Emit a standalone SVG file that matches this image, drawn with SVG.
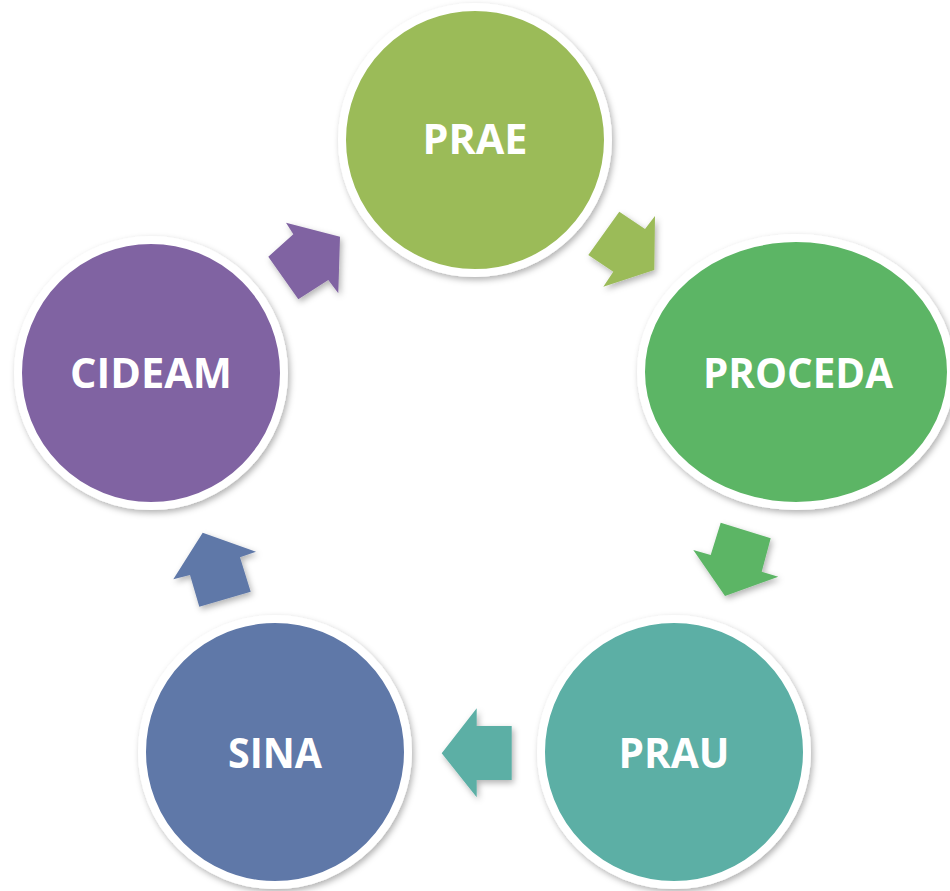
<svg xmlns="http://www.w3.org/2000/svg" width="950" height="891" viewBox="0 0 950 891">
<defs>
<filter id="sh" x="-20%" y="-20%" width="140%" height="140%">
<feDropShadow dx="2" dy="3" stdDeviation="3" flood-color="#000" flood-opacity="0.3"/>
</filter>
</defs>
<style>
.node{stroke:#fff;stroke-width:8;filter:url(#sh)}
.lbl{font-family:"Open Sans","Liberation Sans",sans-serif;font-weight:bold;font-size:42px;fill:#fff;text-anchor:middle}
.arr{filter:url(#sh)}
</style>
<rect width="950" height="891" fill="#fff"/>
<g id="connectors">
<polygon class="arr" fill="#9BBB59" points="619.3,211.7 645,229 655,216 654.3,270 603.3,286.7 613.3,271.7 588.3,255"/>
<polygon class="arr" fill="#5CB565" points="720.7,522.7 770.7,538.3 761.7,571.7 778.3,576.7 725,596 693.3,550 710.7,555"/>
<polygon class="arr" fill="#5BAFA5" points="511.7,726 476.7,726 476.7,708.3 441.7,753.3 476.7,797.3 476.7,780 511.7,780"/>
<polygon class="arr" fill="#5F78A8" points="202.7,532.7 256,551.7 240,557.3 250.7,591.7 199.3,606.7 190,575 173.3,579.3"/>
<polygon class="arr" fill="#8064A2" points="268.3,256.7 293.3,234.3 286,222.7 340,236.7 338.3,293.3 328.3,280 298.3,299.3"/>
</g>
<g id="node-prae">
<circle class="node" cx="475" cy="140" r="133" fill="#9BBB59"/>
<text class="lbl" x="475" y="154" textLength="105" lengthAdjust="spacingAndGlyphs">PRAE</text>
</g>
<g id="node-proceda">
<ellipse class="node" cx="796" cy="372" rx="155" ry="134" fill="#5CB565"/>
<text class="lbl" x="798" y="388" textLength="190" lengthAdjust="spacingAndGlyphs">PROCEDA</text>
</g>
<g id="node-prau">
<circle class="node" cx="674" cy="752" r="133" fill="#5BAFA5"/>
<text class="lbl" x="674" y="768" textLength="111" lengthAdjust="spacingAndGlyphs">PRAU</text>
</g>
<g id="node-sina">
<circle class="node" cx="275" cy="752" r="133" fill="#5F78A8"/>
<text class="lbl" x="275" y="768" textLength="94" lengthAdjust="spacingAndGlyphs">SINA</text>
</g>
<g id="node-cideam">
<circle class="node" cx="151" cy="373" r="133" fill="#8064A2"/>
<text class="lbl" x="151" y="388" textLength="162" lengthAdjust="spacingAndGlyphs">CIDEAM</text>
</g>
</svg>
